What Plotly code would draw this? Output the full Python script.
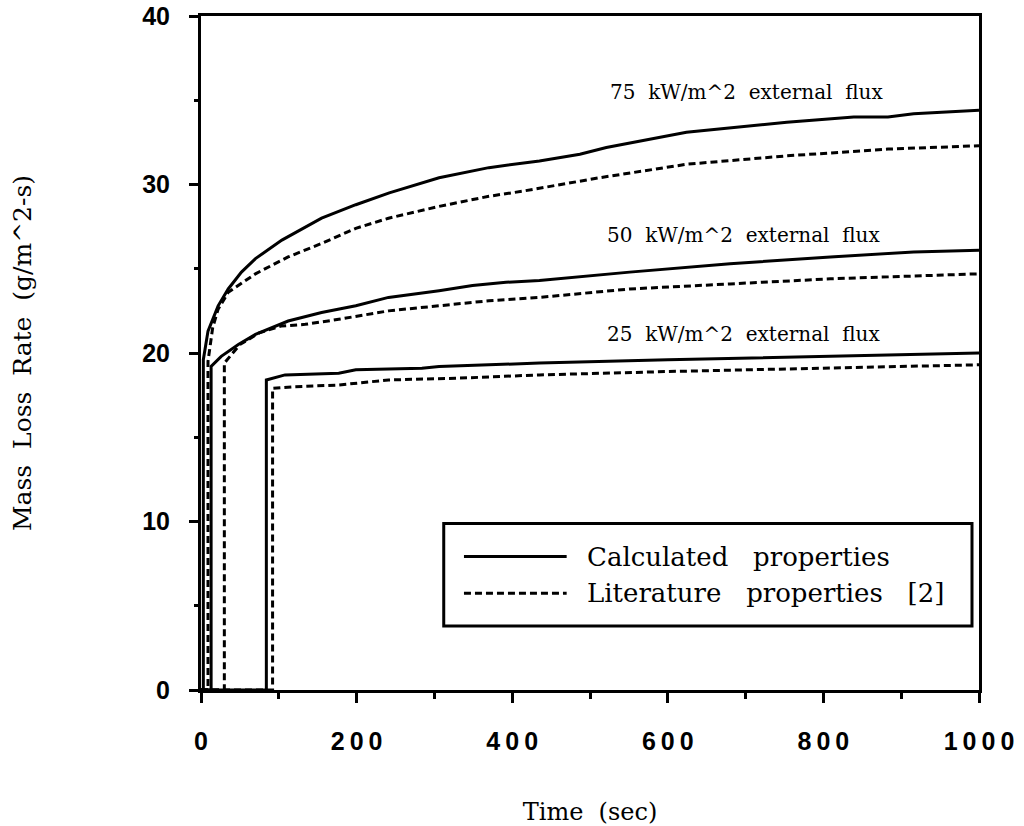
import plotly.graph_objects as go

# Mass loss rate histories (time in s, rate in g/m^2-s)
t_75_calc = [0, 3, 3, 9, 22, 35, 52, 70, 104, 155, 199, 242, 306, 370, 435, 487, 521, 624, 753, 839, 883, 916, 1000]
v_75_calc = [0, 0, 19.6, 21.3, 22.8, 23.8, 24.8, 25.6, 26.7, 28.0, 28.8, 29.5, 30.4, 31.0, 31.4, 31.8, 32.2, 33.1, 33.7, 34.0, 34.0, 34.2, 34.4]

t_75_lit = [0, 9, 9, 15, 22, 35, 70, 112, 155, 199, 241, 306, 370, 413, 512, 624, 753, 883, 1000]
v_75_lit = [0, 0, 19.5, 21.5, 22.6, 23.6, 24.7, 25.7, 26.5, 27.4, 28.0, 28.7, 29.3, 29.6, 30.4, 31.2, 31.7, 32.1, 32.3]

t_50_calc = [0, 13, 13, 26, 48, 70, 112, 155, 199, 241, 306, 349, 392, 435, 551, 680, 809, 916, 1000]
v_50_calc = [0, 0, 19.2, 19.8, 20.5, 21.1, 21.9, 22.4, 22.8, 23.3, 23.7, 24.0, 24.2, 24.3, 24.8, 25.3, 25.7, 26.0, 26.1]

t_50_lit = [0, 30, 30, 50, 75, 103, 134, 177, 241, 306, 370, 435, 551, 680, 809, 1000]
v_50_lit = [0, 0, 19.4, 20.5, 21.2, 21.6, 21.7, 22.0, 22.5, 22.8, 23.1, 23.3, 23.8, 24.1, 24.4, 24.7]

t_25_calc = [0, 84, 84, 108, 177, 199, 284, 306, 370, 435, 600, 800, 1000]
v_25_calc = [0, 0, 18.4, 18.7, 18.8, 19.0, 19.1, 19.2, 19.3, 19.4, 19.6, 19.8, 20.0]

t_25_lit = [0, 92, 92, 121, 177, 241, 327, 435, 600, 800, 1000]
v_25_lit = [0, 0, 17.9, 18.0, 18.1, 18.4, 18.5, 18.7, 18.9, 19.1, 19.3]

x_ticks = [0, 200, 400, 600, 800, 1000]
y_ticks = [0, 10, 20, 30, 40]

flux_labels = ["75  kW/m^2  external  flux", "50  kW/m^2  external  flux", "25  kW/m^2  external  flux"]
flux_label_x = [523, 519, 519]
flux_label_y = [35.5, 27.0, 21.1]

legend_names = ["Calculated   properties", "Literature   properties   [2]"]

SOLID = dict(color="black", width=3)
DASHED = dict(color="black", width=3, dash="7px,4px")

series = [
    (t_75_calc, v_75_calc, SOLID),
    (t_75_lit, v_75_lit, DASHED),
    (t_50_calc, v_50_calc, SOLID),
    (t_50_lit, v_50_lit, DASHED),
    (t_25_calc, v_25_calc, SOLID),
    (t_25_lit, v_25_lit, DASHED),
]

fig = go.Figure()
for t, v, style in series:
    fig.add_trace(go.Scatter(x=t, y=v, mode="lines", line=style,
                             showlegend=False, hoverinfo="skip"))

def nb(s):
    return s.replace(" ", "\u00a0")

serif = "DejaVu Serif"
for txt, xv, yv in zip(flux_labels, flux_label_x, flux_label_y):
    fig.add_annotation(x=xv, y=yv, xref="x", yref="y", text=nb(txt),
                       showarrow=False, xanchor="left", yanchor="middle",
                       font=dict(family=serif, size=20, color="black"))

# hand-drawn legend box
lx0, lx1, ly0, ly1 = 0.312, 0.991, 0.095, 0.247
fig.add_shape(type="rect", xref="paper", yref="paper", x0=lx0, x1=lx1, y0=ly0, y1=ly1,
              line=dict(color="black", width=3), fillcolor="white", layer="above")
for row_y, style, name in [(0.198, SOLID, legend_names[0]), (0.1435, DASHED, legend_names[1])]:
    fig.add_shape(type="line", xref="paper", yref="paper", x0=0.338, x1=0.47,
                  y0=row_y, y1=row_y, line=style, layer="above")
    fig.add_annotation(x=0.494, y=row_y, xref="paper", yref="paper", text=nb(name),
                       showarrow=False, xanchor="left", yanchor="middle",
                       font=dict(family=serif, size=26, color="black"))

tick_font = dict(family="Liberation Sans", size=25, color="black")
spaced = lambda n: "\u2009".join(str(n))

fig.update_xaxes(
    range=[0, 1000], tickvals=x_ticks, ticktext=[f"<b>{spaced(n)}</b>" for n in x_ticks],
    ticks="outside", ticklen=10, tickwidth=3, tickcolor="black",
    minor=dict(dtick=100, ticks="outside", ticklen=6, tickwidth=3, tickcolor="black"),
    showline=True, linewidth=3, linecolor="black", mirror=True,
    showgrid=False, zeroline=False, tickfont=tick_font, ticklabelstandoff=17,
    ticklabeloverflow="allow",
    title=dict(text=nb("Time  (sec)"), font=dict(family=serif, size=24, color="black"), standoff=52),
)
fig.update_yaxes(
    range=[0, 40], tickvals=y_ticks, ticktext=[f"<b>{n}</b>" for n in y_ticks],
    ticks="outside", ticklen=9, tickwidth=3, tickcolor="black",
    minor=dict(dtick=5, ticks="outside", ticklen=4, tickwidth=3, tickcolor="black"),
    showline=True, linewidth=3, linecolor="black", mirror=True,
    showgrid=False, zeroline=False, tickfont=tick_font, ticklabelstandoff=14,
    ticklabeloverflow="allow",
    title=dict(text=nb("Mass  Loss  Rate  (g/m^2-s)"), font=dict(family=serif, size=25, color="black"), standoff=104),
)

fig.update_layout(
    width=1024, height=826,
    margin=dict(l=201, r=45, t=16, b=136, autoexpand=False),
    paper_bgcolor="white", plot_bgcolor="white",
)

fig.write_html("out.html")
